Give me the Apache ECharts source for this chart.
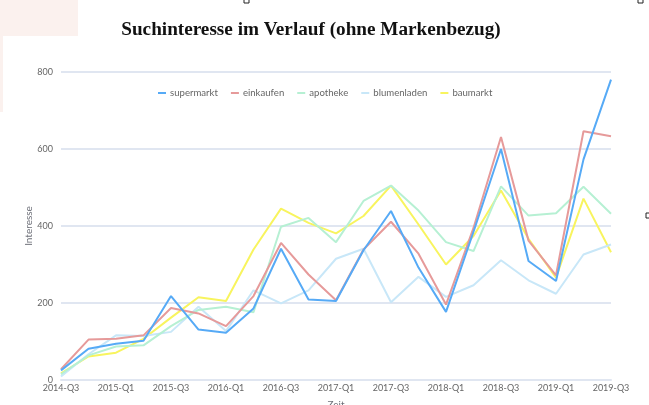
<!DOCTYPE html>
<html><head><meta charset="utf-8">
<script src="https://cdn.jsdelivr.net/npm/echarts@6/dist/echarts.min.js"></script>
<style>html,body{margin:0;padding:0;background:#fff}#c{width:649px;height:405px}</style>
</head><body><div id="c"></div>
<script>
const categories = ["2014-Q3","2014-Q4","2015-Q1","2015-Q2","2015-Q3","2015-Q4","2016-Q1","2016-Q2","2016-Q3","2016-Q4","2017-Q1","2017-Q2","2017-Q3","2017-Q4","2018-Q1","2018-Q2","2018-Q3","2018-Q4","2019-Q1","2019-Q2","2019-Q3"];
const supermarkt  = [25, 81, 94, 102, 218, 131, 123, 186, 341, 209, 205, 337, 439, 292, 177, 385, 600, 309, 257, 573, 780];
const einkaufen   = [28, 105, 107, 116, 187, 173, 140, 218, 356, 274, 207, 339, 411, 328, 196, 395, 631, 362, 272, 646, 633];
const apotheke    = [15, 64, 87, 90, 140, 182, 190, 176, 398, 421, 358, 465, 505, 440, 358, 335, 503, 427, 433, 502, 432];
const blumenladen = [9, 67, 116, 114, 125, 190, 127, 233, 199, 233, 315, 341, 202, 268, 216, 246, 311, 259, 224, 326, 352];
const baumarkt    = [17, 61, 71, 107, 162, 215, 205, 339, 445, 408, 381, 426, 505, 404, 300, 374, 492, 367, 266, 471, 332];
const yTicks = [0, 200, 400, 600, 800];

const names = ["supermarkt","einkaufen","apotheke","blumenladen","baumarkt"];
const colors = ["#56aaf6","#e69a9a","#b6f0d3","#c8e7f8","#f8f45e"];
const values = [supermarkt, einkaufen, apotheke, blumenladen, baumarkt];

const chart = echarts.init(document.getElementById('c'));
chart.setOption({
  animation: false,
  color: colors,
  title: {
    text: "Suchinteresse im Verlauf (ohne Markenbezug)",
    left: 306, top: 16, textAlign: 'center',
    textStyle: {fontFamily: "Liberation Serif", fontWeight: 'bold', fontSize: 19.2, color: '#111'}
  },
  legend: {
    data: names, top: 83, left: 153, itemWidth: 8, itemHeight: 2, itemGap: 13,
    icon: 'rect',
    textStyle: {fontFamily: 'Lato', fontSize: 9.6, color: '#666', padding: [0, 0, 0, -1]}
  },
  grid: {left: 61, right: 38, top: 72, bottom: 25, outerBoundsMode: 'none', containLabel: false},
  xAxis: {
    type: 'category', data: categories, boundaryGap: false,
    name: 'Zeit', nameLocation: 'middle', nameGap: 20,
    nameTextStyle: {fontFamily: 'Lato', fontSize: 10, color: '#6e7079'},
    axisLine: {lineStyle: {color: '#e0e6f1', width: 2}},
    axisTick: {show: false},
    axisLabel: {interval: 1, fontFamily: 'Lato', fontSize: 9, color: '#666', margin: 4}
  },
  yAxis: {
    type: 'value', min: yTicks[0], max: yTicks[yTicks.length-1], interval: 200,
    name: 'Interesse', nameLocation: 'middle', nameGap: 27, nameMoveOverlap: false,
    nameTextStyle: {fontFamily: 'Lato', fontSize: 10, color: '#6e7079'},
    axisLine: {show: false}, axisTick: {show: false},
    splitLine: {lineStyle: {color: '#e0e6f1', width: 2}},
    axisLabel: {fontFamily: 'Lato', fontSize: 9, color: '#666', margin: 8}
  },
  series: names.map((n, i) => ({
    name: n, type: 'line', data: values[i], showSymbol: false, symbol: 'none',
    lineStyle: {width: 2, color: colors[i]}, z: 10 - i
  })),
  graphic: [
    {type: 'rect', shape: {x: 0, y: 0, width: 78, height: 36}, style: {fill: '#fbf1ee'}, silent: true},
    {type: 'rect', shape: {x: 0, y: 36, width: 3, height: 76}, style: {fill: '#fbf1ee'}, silent: true},
    {type: 'rect', shape: {x: 244, y: -2, width: 5, height: 5}, style: {fill: 'none', stroke: '#222', lineWidth: 1}, silent: true},
    {type: 'rect', shape: {x: 638, y: -2, width: 5, height: 5}, style: {fill: 'none', stroke: '#222', lineWidth: 1}, silent: true},
    {type: 'rect', shape: {x: 646, y: 213, width: 5, height: 5}, style: {fill: 'none', stroke: '#222', lineWidth: 1}, silent: true}
  ]
});
</script></body></html>
